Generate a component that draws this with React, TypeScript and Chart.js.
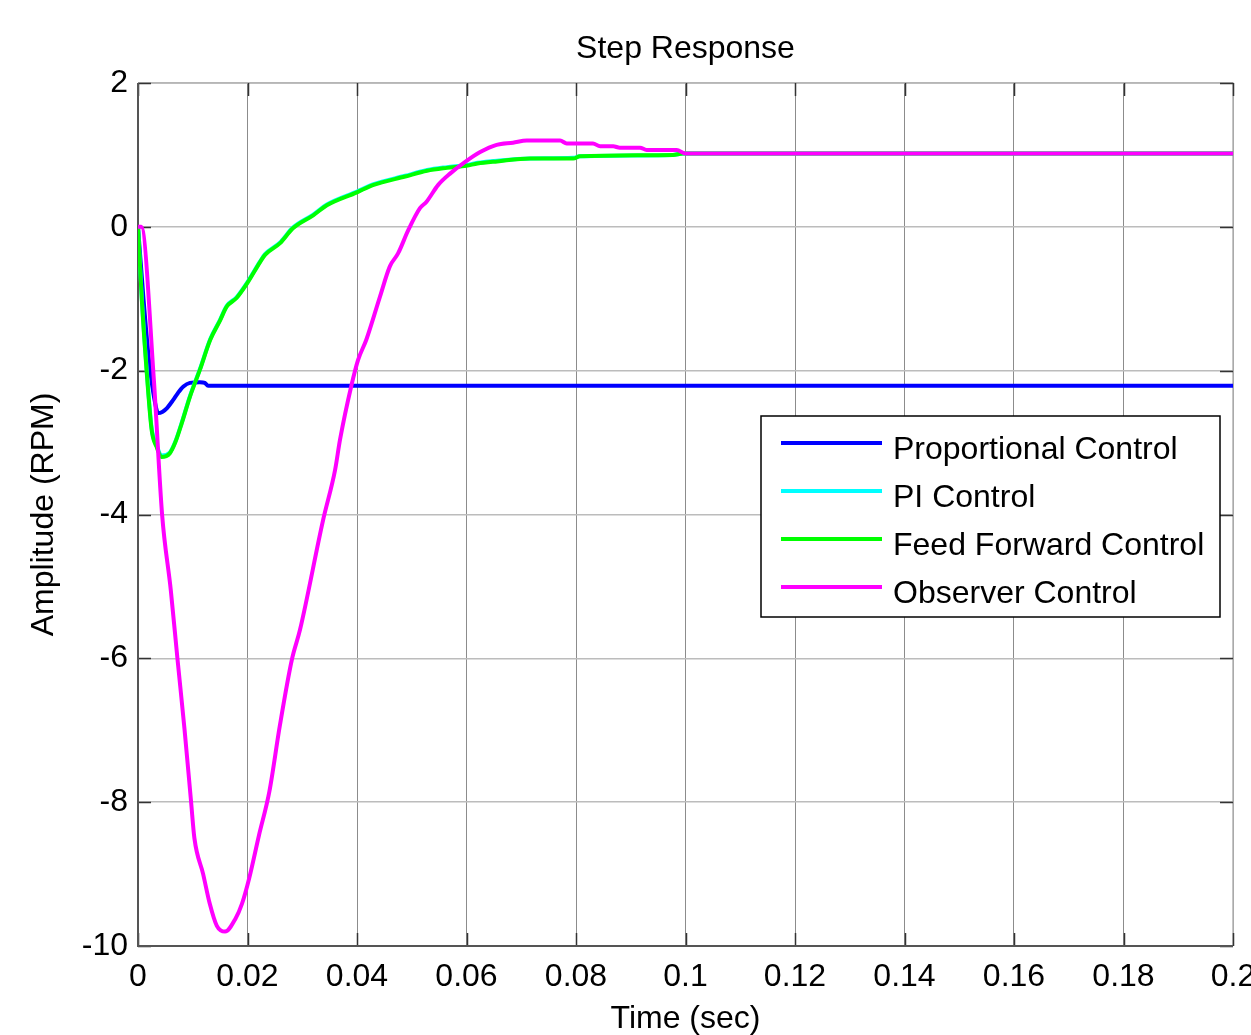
import React, { useEffect, useRef } from "react";
import { Chart, registerables } from "chart.js";

Chart.register(...registerables);

const FONT = "'Liberation Sans', Arial, Helvetica, sans-serif";

// Series names and colours
const seriesLabels = ["Proportional Control", "PI Control", "Feed Forward Control", "Observer Control"];
const seriesColors = ["#0000ff", "#00ffff", "#00ff00", "#ff00ff"];

// Proportional control response
const propTime = [0, 0.001, 0.002, 0.003, 0.0037, 0.0045, 0.0053, 0.0064, 0.0073, 0.0083, 0.0095, 0.0113, 0.0122, 0.0128, 0.2];
const propValue = [0, -1.0, -1.85, -2.4, -2.59, -2.57, -2.52, -2.41, -2.31, -2.22, -2.17, -2.16, -2.17, -2.21, -2.21];

// PI control response
const piTime = [0, 0.0007, 0.0016, 0.0025, 0.0034, 0.0043, 0.0058, 0.0068, 0.008, 0.0095, 0.0113, 0.0132, 0.015, 0.0162, 0.018, 0.0199, 0.0223, 0.0232, 0.0259, 0.0283, 0.032, 0.0345, 0.04, 0.0429, 0.0488, 0.0528, 0.0564, 0.06, 0.062, 0.0656, 0.0716, 0.0795, 0.0807, 0.0977, 0.0995, 0.2];
const piValue = [0, -1.0, -2.0, -2.8, -3.04, -3.18, -3.14, -2.99, -2.72, -2.35, -1.98, -1.56, -1.29, -1.1, -0.98, -0.78, -0.48, -0.38, -0.22, -0.01, 0.17, 0.31, 0.49, 0.59, 0.71, 0.79, 0.83, 0.86, 0.89, 0.92, 0.95, 0.96, 0.98, 1.0, 1.02, 1.02];

// Feed forward control response
const ffTime = [0, 0.0007, 0.0016, 0.0025, 0.0034, 0.0043, 0.0058, 0.0068, 0.008, 0.0095, 0.0113, 0.0132, 0.015, 0.0162, 0.018, 0.0199, 0.0223, 0.0232, 0.0259, 0.0283, 0.032, 0.0345, 0.04, 0.0429, 0.0488, 0.0528, 0.0564, 0.06, 0.062, 0.0656, 0.0716, 0.0795, 0.0807, 0.0977, 0.0995, 0.2];
const ffValue = [0, -1.02, -2.03, -2.83, -3.06, -3.2, -3.15, -3.0, -2.73, -2.36, -1.99, -1.57, -1.3, -1.11, -0.99, -0.79, -0.49, -0.39, -0.23, -0.02, 0.16, 0.3, 0.48, 0.58, 0.7, 0.78, 0.82, 0.85, 0.88, 0.91, 0.95, 0.95, 0.98, 1.0, 1.02, 1.02];

// Observer control response
const obsTime = [0, 0.0006, 0.0029, 0.0044, 0.006, 0.0072, 0.0085, 0.0097, 0.0103, 0.0119, 0.0131, 0.0144, 0.0159, 0.0178, 0.019, 0.0203, 0.0221, 0.024, 0.0259, 0.0281, 0.0296, 0.0338, 0.036, 0.0369, 0.039, 0.0402, 0.0417, 0.0442, 0.046, 0.0475, 0.0494, 0.0515, 0.0527, 0.0548, 0.057, 0.0597, 0.0625, 0.0655, 0.0685, 0.071, 0.0771, 0.0783, 0.0831, 0.0844, 0.0868, 0.088, 0.0917, 0.0929, 0.0984, 0.0999, 0.2];
const obsValue = [0, 0, -2.13, -4.0, -5.06, -6.0, -6.99, -8.0, -8.5, -9.0, -9.41, -9.72, -9.8, -9.62, -9.41, -9.06, -8.46, -7.85, -6.94, -6.02, -5.6, -4.08, -3.38, -2.96, -2.2, -1.85, -1.57, -0.97, -0.55, -0.37, -0.04, 0.26, 0.35, 0.58, 0.74, 0.9, 1.04, 1.14, 1.17, 1.2, 1.2, 1.16, 1.16, 1.12, 1.12, 1.1, 1.1, 1.07, 1.07, 1.02, 1.02];

// Axis ticks
const xTickValues = [0, 0.02, 0.04, 0.06, 0.08, 0.1, 0.12, 0.14, 0.16, 0.18, 0.2];
const xTickLabels = ["0", "0.02", "0.04", "0.06", "0.08", "0.1", "0.12", "0.14", "0.16", "0.18", "0.2"];
const yTickValues = [-10, -8, -6, -4, -2, 0, 2];
const yTickLabels = ["-10", "-8", "-6", "-4", "-2", "0", "2"];

const seriesTimes = [propTime, piTime, ffTime, obsTime];
const seriesValues = [propValue, piValue, ffValue, obsValue];
// lower order is painted on top
const seriesOrder = [3, 2, 1, 0];

const toPoints = (t: number[], v: number[]) => t.map((x, i) => ({ x, y: v[i] }));

// Axes box with inward tick marks
const framePlugin = {
  id: "axesFrame",
  beforeDatasetsDraw(chart: any) {
    const { ctx, chartArea } = chart;
    const { left, right, top, bottom } = chartArea;
    const xs = chart.scales.x;
    const ys = chart.scales.y;
    ctx.save();
    ctx.lineCap = "butt";
    // top and right edges
    ctx.strokeStyle = "#b4b4b4";
    ctx.lineWidth = 1.5;
    ctx.beginPath();
    ctx.moveTo(left, top);
    ctx.lineTo(right, top);
    ctx.lineTo(right, bottom);
    ctx.stroke();
    // tick marks
    const len = 13;
    ctx.strokeStyle = "#333";
    ctx.lineWidth = 1.5;
    ctx.beginPath();
    xTickValues.forEach((v) => {
      const px = Math.round(xs.getPixelForValue(v)) + 0.5;
      ctx.moveTo(px, bottom);
      ctx.lineTo(px, bottom - len);
      ctx.moveTo(px, top);
      ctx.lineTo(px, top + len);
    });
    yTickValues.forEach((v) => {
      const py = Math.round(ys.getPixelForValue(v)) + 0.5;
      ctx.moveTo(left, py);
      ctx.lineTo(left + len, py);
      ctx.moveTo(right, py);
      ctx.lineTo(right - len, py);
    });
    ctx.stroke();
    // left and bottom axis lines
    ctx.strokeStyle = "#555";
    ctx.lineWidth = 2;
    ctx.beginPath();
    ctx.moveTo(left, top);
    ctx.lineTo(left, bottom);
    ctx.lineTo(right, bottom);
    ctx.stroke();
    ctx.restore();
  },
};

// Boxed legend inside the axes
const boxLegendPlugin = {
  id: "boxLegend",
  afterDraw(chart: any) {
    const { ctx, chartArea } = chart;
    const bx = chartArea.right - 472;
    const by = chartArea.top + 333;
    const bw = 459;
    const bh = 201;
    ctx.save();
    ctx.fillStyle = "#ffffff";
    ctx.fillRect(bx, by, bw, bh);
    ctx.strokeStyle = "#000";
    ctx.lineWidth = 1.5;
    ctx.strokeRect(bx, by, bw, bh);
    ctx.font = `32px ${FONT}`;
    ctx.textAlign = "left";
    ctx.textBaseline = "alphabetic";
    chart.data.datasets.forEach((ds: any, i: number) => {
      const ly = by + 27 + i * 48;
      ctx.strokeStyle = ds.borderColor;
      ctx.lineWidth = 4;
      ctx.beginPath();
      ctx.moveTo(bx + 20, ly);
      ctx.lineTo(bx + 121, ly);
      ctx.stroke();
      ctx.fillStyle = "#000";
      ctx.fillText(ds.label, bx + 132, ly + 16);
    });
    ctx.restore();
  },
};

export default function App() {
  const canvasRef = useRef<HTMLCanvasElement | null>(null);

  useEffect(() => {
    if (!canvasRef.current) return;
    const chart = new Chart(canvasRef.current, {
      type: "line",
      data: {
        datasets: seriesLabels.map((label, i) => ({
          label,
          data: toPoints(seriesTimes[i], seriesValues[i]),
          borderColor: seriesColors[i],
          backgroundColor: seriesColors[i],
          borderWidth: 4,
          pointRadius: 0,
          fill: false,
          cubicInterpolationMode: "monotone" as const,
          order: seriesOrder[i],
        })),
      },
      options: {
        animation: false,
        responsive: false,
        devicePixelRatio: 1,
        parsing: false as any,
        layout: { padding: { left: 0, right: 18, top: 0, bottom: 0 } },
        plugins: {
          legend: { display: false },
          tooltip: { enabled: false },
          title: {
            display: true,
            text: "Step Response",
            fullSize: false,
            color: "#000",
            font: { family: FONT, size: 32, weight: "normal", lineHeight: 1.2 },
            padding: { top: 30, bottom: 14.6 },
          },
        },
        scales: {
          x: {
            type: "linear",
            min: 0,
            max: 0.2,
            afterBuildTicks: (s: any) => {
              s.ticks = xTickValues.map((value) => ({ value }));
            },
            afterFit: (s: any) => {
              s.height = 89;
              s.paddingLeft = 0;
              s.paddingRight = 0;
            },
            ticks: {
              padding: 12,
              color: "#000",
              font: { family: FONT, size: 32 },
              maxRotation: 0,
              autoSkip: false,
              callback: (_v: any, i: number) => xTickLabels[i],
            },
            grid: { color: "#8c8c8c", lineWidth: 1, drawTicks: false },
            border: { display: false },
            title: {
              display: true,
              text: "Time (sec)",
              color: "#000",
              font: { family: FONT, size: 32, lineHeight: 1.0 },
              padding: 0,
            },
          },
          y: {
            type: "linear",
            min: -10,
            max: 2,
            afterBuildTicks: (s: any) => {
              s.ticks = yTickValues.map((value) => ({ value }));
            },
            afterFit: (s: any) => {
              s.width = 138;
            },
            ticks: {
              padding: 10,
              color: "#000",
              font: { family: FONT, size: 32 },
              callback: (_v: any, i: number) => yTickLabels[i],
            },
            grid: { color: "#bcbcbc", lineWidth: 1.5, drawTicks: false },
            border: { display: false },
            title: {
              display: true,
              text: "Amplitude (RPM)",
              color: "#000",
              font: { family: FONT, size: 32, lineHeight: 1.2 },
              padding: { top: 25, bottom: 0 },
            },
          },
        },
      },
      plugins: [framePlugin, boxLegendPlugin],
    });
    return () => chart.destroy();
  }, []);

  return (
    <div style={{ position: "absolute", left: 0, top: 0, width: 1251, height: 1035, background: "#fff" }}>
      <canvas ref={canvasRef} width={1251} height={1035} style={{ display: "block" }} />
    </div>
  );
}
